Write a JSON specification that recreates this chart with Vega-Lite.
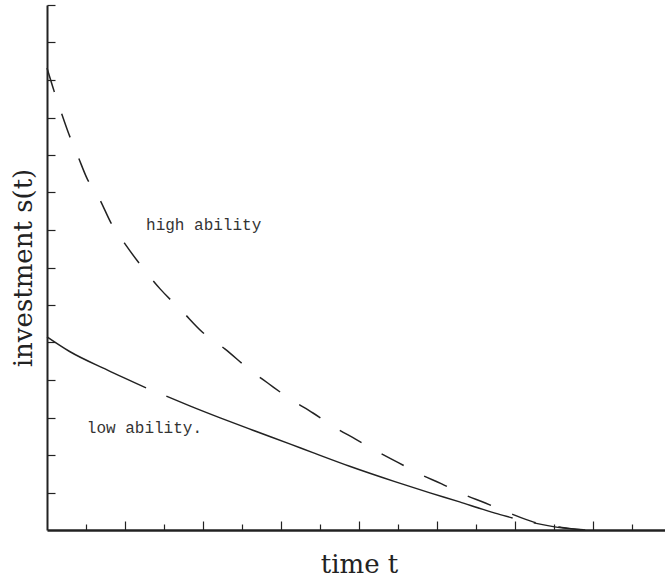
{
  "$schema": "https://vega.github.io/schema/vega-lite/v6.json",
  "width": 624,
  "height": 525,
  "autosize": {"type": "none"},
  "padding": {"left": 47, "top": 5, "right": 0, "bottom": 48},
  "background": "white",
  "config": {
    "view": {"stroke": null},
    "axis": {
      "grid": false,
      "labels": false,
      "domainColor": "#222",
      "tickColor": "#222",
      "tickWidth": 1.2,
      "titleFont": "DejaVu Serif",
      "titleFontWeight": "normal",
      "titleColor": "#222",
      "titleFontSize": 26
    }
  },
  "datasets": {
    "high": [
      {"t": 0.0, "s": 12.32},
      {"t": 0.09, "s": 11.71},
      {"t": 0.18, "s": 11.15},
      {"t": 0.28, "s": 10.56},
      {"t": 0.40, "s": 9.95},
      {"t": 0.51, "s": 9.39},
      {"t": 0.68, "s": 8.80},
      {"t": 0.82, "s": 8.19},
      {"t": 1.00, "s": 7.63},
      {"t": 1.22, "s": 7.01},
      {"t": 1.45, "s": 6.43},
      {"t": 1.73, "s": 5.84},
      {"t": 1.99, "s": 5.28},
      {"t": 2.28, "s": 4.83},
      {"t": 2.60, "s": 4.27},
      {"t": 2.83, "s": 3.92},
      {"t": 3.12, "s": 3.49},
      {"t": 3.41, "s": 3.12},
      {"t": 3.68, "s": 2.75},
      {"t": 3.95, "s": 2.43},
      {"t": 4.22, "s": 2.11},
      {"t": 4.51, "s": 1.79},
      {"t": 4.78, "s": 1.49},
      {"t": 5.06, "s": 1.23},
      {"t": 5.33, "s": 0.96},
      {"t": 5.62, "s": 0.72},
      {"t": 5.93, "s": 0.45},
      {"t": 6.24, "s": 0.21},
      {"t": 6.60, "s": 0.07},
      {"t": 6.92, "s": 0.0}
    ],
    "low": [
      {"t": 0.0, "s": 5.15, "seg": "a"},
      {"t": 0.29, "s": 4.76, "seg": "a"},
      {"t": 0.77, "s": 4.27, "seg": "a"},
      {"t": 1.27, "s": 3.79, "seg": "a"},
      {"t": 1.53, "s": 3.57, "seg": "b"},
      {"t": 1.83, "s": 3.31, "seg": "b"},
      {"t": 2.22, "s": 2.99, "seg": "b"},
      {"t": 2.64, "s": 2.66, "seg": "b"},
      {"t": 3.12, "s": 2.29, "seg": "b"},
      {"t": 3.40, "s": 2.07, "seg": "b"},
      {"t": 3.88, "s": 1.70, "seg": "b"},
      {"t": 4.46, "s": 1.29, "seg": "b"},
      {"t": 4.91, "s": 0.99, "seg": "b"},
      {"t": 5.29, "s": 0.75, "seg": "b"},
      {"t": 5.59, "s": 0.55, "seg": "b"},
      {"t": 5.78, "s": 0.43, "seg": "b"},
      {"t": 5.97, "s": 0.32, "seg": "b"},
      {"t": 6.24, "s": 0.19, "seg": "c"},
      {"t": 6.55, "s": 0.07, "seg": "c"},
      {"t": 6.90, "s": 0.0, "seg": "c"}
    ],
    "labels": [
      {"label": "high ability", "t": 1.27, "s": 8.13},
      {"label": "low ability.", "t": 0.51, "s": 2.72}
    ]
  },
  "layer": [
    {
      "data": {"name": "high"},
      "mark": {"type": "line", "interpolate": "monotone", "strokeDash": [25, 23], "strokeWidth": 1.5, "color": "#222"},
      "encoding": {
        "x": {
          "field": "t",
          "type": "quantitative",
          "scale": {"domain": [0, 8], "nice": false},
          "axis": {
            "title": "time t",
            "values": [0.5, 1, 1.5, 2, 2.5, 3, 3.5, 4, 4.5, 5, 5.5, 6, 6.5, 7, 7.5, 8],
            "domainWidth": 2.5,
            "tickSize": {"condition": {"test": "datum.value % 1 === 0", "value": -9}, "value": -6},
            "titleX": 312,
            "titleY": 34,
            "titleBaseline": "middle",
            "titleAlign": "center"
          }
        },
        "y": {
          "field": "s",
          "type": "quantitative",
          "scale": {"domain": [0, 14], "nice": false},
          "axis": {
            "title": "investment s(t)",
            "values": [1, 2, 3, 4, 5, 6, 7, 8, 9, 10, 11, 12, 13, 14],
            "domainWidth": 2,
            "tickSize": -8,
            "titleAngle": -90,
            "titleX": -24,
            "titleY": 262.5,
            "titleBaseline": "middle",
            "titleAlign": "center"
          }
        }
      }
    },
    {
      "data": {"name": "low"},
      "mark": {"type": "line", "interpolate": "monotone", "strokeWidth": 1.5, "color": "#222"},
      "encoding": {
        "x": {"field": "t", "type": "quantitative"},
        "y": {"field": "s", "type": "quantitative"},
        "detail": {"field": "seg"}
      }
    },
    {
      "data": {"name": "labels"},
      "mark": {"type": "text", "align": "left", "baseline": "middle", "font": "Liberation Mono", "fontSize": 16, "color": "#333"},
      "encoding": {
        "x": {"field": "t", "type": "quantitative"},
        "y": {"field": "s", "type": "quantitative"},
        "text": {"field": "label"}
      }
    }
  ]
}
